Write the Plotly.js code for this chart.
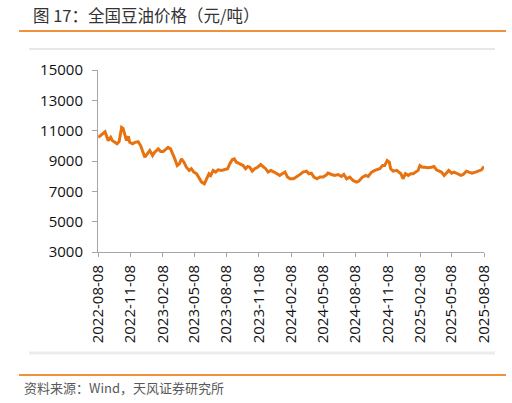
<!DOCTYPE html>
<html>
<head>
<meta charset="utf-8">
<script src="https://cdn.plot.ly/plotly-3.0.1.min.js"></script>
<style>
  html, body { margin: 0; padding: 0; background: #fff; }
  #chart { width: 512px; height: 403px; }
</style>
</head>
<body>
<div id="chart"></div>
<script>
const dates = [
  "2022-08-09", "2022-08-14", "2022-08-28", "2022-09-01", "2022-09-06", "2022-09-13",
  "2022-09-18", "2022-09-25", "2022-10-01", "2022-10-07", "2022-10-14", "2022-10-18",
  "2022-10-23", "2022-10-28", "2022-11-02", "2022-11-06", "2022-11-14", "2022-11-21",
  "2022-11-30", "2022-12-07", "2022-12-12", "2022-12-19", "2022-12-26", "2023-01-02",
  "2023-01-10", "2023-01-16", "2023-01-26", "2023-02-02", "2023-02-09", "2023-02-17",
  "2023-02-23", "2023-03-02", "2023-03-09", "2023-03-14", "2023-03-21", "2023-03-27",
  "2023-04-02", "2023-04-09", "2023-04-16", "2023-04-24", "2023-04-30", "2023-05-07",
  "2023-05-15", "2023-05-22", "2023-05-29", "2023-06-06", "2023-06-12", "2023-06-19",
  "2023-06-24", "2023-07-01", "2023-07-08", "2023-07-15", "2023-07-25", "2023-08-03",
  "2023-08-11", "2023-08-17", "2023-08-24", "2023-08-30", "2023-09-05", "2023-09-15",
  "2023-09-24", "2023-10-01", "2023-10-07", "2023-10-13", "2023-10-20", "2023-10-27",
  "2023-11-04", "2023-11-13", "2023-11-20", "2023-11-27", "2023-12-04", "2023-12-12",
  "2023-12-21", "2023-12-28", "2024-01-06", "2024-01-13", "2024-01-21", "2024-01-28",
  "2024-02-04", "2024-02-14", "2024-02-23", "2024-03-03", "2024-03-12", "2024-03-22",
  "2024-03-29", "2024-04-05", "2024-04-12", "2024-04-21", "2024-04-29", "2024-05-08",
  "2024-05-16", "2024-05-22", "2024-06-01", "2024-06-10", "2024-06-20", "2024-06-29",
  "2024-07-06", "2024-07-14", "2024-07-23", "2024-08-01", "2024-08-11", "2024-08-18",
  "2024-08-28", "2024-09-06", "2024-09-13", "2024-09-23", "2024-10-02", "2024-10-08",
  "2024-10-16", "2024-10-24", "2024-10-30", "2024-11-06", "2024-11-12", "2024-11-16",
  "2024-11-23", "2024-12-03", "2024-12-10", "2024-12-15", "2024-12-21", "2024-12-28",
  "2025-01-05", "2025-01-12", "2025-01-19", "2025-01-26", "2025-02-02", "2025-02-07",
  "2025-02-14", "2025-02-21", "2025-03-02", "2025-03-12", "2025-03-19", "2025-03-26",
  "2025-04-02", "2025-04-09", "2025-04-17", "2025-04-24", "2025-04-30", "2025-05-08",
  "2025-05-15", "2025-05-25", "2025-06-03", "2025-06-10", "2025-06-19", "2025-06-26",
  "2025-07-05", "2025-07-15", "2025-07-24", "2025-08-01", "2025-08-08"
];

const prices = [
  10560, 10670, 10930, 10670, 10340, 10560,
  10340, 10230, 10130, 10280, 11220, 11150,
  10780, 10340, 10630, 10230, 10130, 10230,
  10280, 10020, 9690, 9250, 9470, 9690,
  9360, 9580, 9800, 9620, 9620, 9750,
  9900, 9800, 9470, 9140, 8700, 8810,
  9140, 8920, 8590, 8380, 8490, 8270,
  8160, 7830, 7610, 7500, 7830, 8160,
  8050, 8380, 8270, 8420, 8380, 8420,
  8490, 8810, 9080, 9140, 8920, 8810,
  8700, 8490, 8640, 8590, 8330, 8490,
  8590, 8770, 8640, 8490, 8270, 8380,
  8270, 8160, 8050, 8160, 8270, 7940,
  7830, 7830, 7940, 8100, 8270, 8330,
  8160, 8200, 7940, 7830, 7940, 7940,
  8050, 8200, 8110, 8050, 8110, 7980,
  8110, 7830, 7940, 7720, 7610, 7680,
  7940, 8050, 7980, 8270, 8380, 8420,
  8490, 8700, 8700, 9030, 8920, 8490,
  8330, 8380, 8270, 8160, 7830, 8160,
  8050, 8160, 8160, 8270, 8380, 8700,
  8590, 8590, 8550, 8590, 8640, 8420,
  8330, 8270, 8050, 8270, 8380, 8200,
  8270, 8160, 8050, 8110, 8330, 8270,
  8200, 8270, 8330, 8420, 8640
];

const tickDates = [
  "2022-08-08", "2022-11-08", "2023-02-08", "2023-05-08", "2023-08-08",
  "2023-11-08", "2024-02-08", "2024-05-08", "2024-08-08", "2024-11-08",
  "2025-02-08", "2025-05-08", "2025-08-08"
];

const yTicks = [3000, 5000, 7000, 9000, 11000, 13000, 15000];

const axisColor = "#a6a6a6";
const orange = "#f0913c";
const font = "'Open Sans', 'Noto Sans CJK SC', sans-serif";

const trace = {
  type: "scatter",
  mode: "lines",
  x: dates,
  y: prices,
  line: { color: "#e8720f", width: 3 },
  hoverinfo: "x+y",
};

const layout = {
  width: 512,
  height: 403,
  margin: { l: 98, r: 28, t: 70, b: 151 },
  paper_bgcolor: "#ffffff",
  plot_bgcolor: "#ffffff",
  showlegend: false,
  font: { family: font, size: 15, color: "#111111" },
  xaxis: {
    type: "date",
    range: ["2022-08-08", "2025-08-08"],
    tickvals: tickDates,
    ticktext: tickDates,
    tickangle: -90,
    ticks: "outside",
    ticklen: 4,
    tickcolor: axisColor,
    ticklabelstandoff: 2,
    showline: true,
    linecolor: axisColor,
    linewidth: 1,
    showgrid: false,
    zeroline: false,
    tickfont: { family: font, size: 15, color: "#111111" },
  },
  yaxis: {
    range: [3000, 15000],
    tickvals: yTicks,
    ticktext: yTicks.map(String),
    ticks: "outside",
    ticklen: 5,
    tickcolor: axisColor,
    ticklabelstandoff: 6,
    showline: true,
    linecolor: axisColor,
    linewidth: 1,
    showgrid: false,
    zeroline: false,
    tickfont: { family: font, size: 15, color: "#111111" },
  },
  shapes: [
    {
      type: "line", xref: "paper", yref: "paper",
      x0: -0.2047, x1: 1.057, y0: 1.2143, y1: 1.2143,
      line: { color: orange, width: 2 },
    },
    {
      type: "line", xref: "paper", yref: "paper",
      x0: -0.2047, x1: 1.057, y0: -0.6758, y1: -0.6758,
      line: { color: orange, width: 2 },
    },
    {
      type: "line", xref: "paper", yref: "paper",
      x0: -0.1788, x1: 1.0285, y0: 1.1154, y1: 1.1154,
      line: { color: "#d0d0d0", width: 1 },
    },
    {
      type: "line", xref: "paper", yref: "paper",
      x0: -0.1788, x1: 1.0285, y0: -0.5549, y1: -0.5549,
      line: { color: "#ececec", width: 3 },
    },
  ],
  annotations: [
    {
      xref: "paper", yref: "paper", x: -0.1736, y: 1.3022,
      xanchor: "left", yanchor: "middle", showarrow: false,
      text: "图 17：全国豆油价格（元/吨）",
      font: { family: "'Noto Sans CJK SC', sans-serif", size: 16.5, color: "#333333" },
    },
    {
      xref: "paper", yref: "paper", x: -0.1969, y: -0.7418,
      xanchor: "left", yanchor: "middle", showarrow: false,
      text: "资料来源：Wind，天风证券研究所",
      font: { family: "'Noto Sans CJK SC', sans-serif", size: 13, color: "#595959" },
    },
  ],
};

Plotly.newPlot("chart", [trace], layout, { displayModeBar: false, staticPlot: true });
</script>
</body>
</html>
